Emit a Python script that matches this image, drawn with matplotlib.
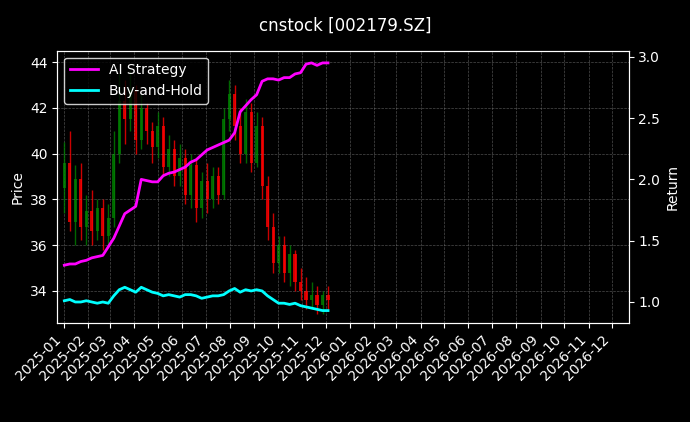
import matplotlib
matplotlib.use("Agg")
import matplotlib.pyplot as plt
import matplotlib.dates as mdates
from matplotlib.ticker import MultipleLocator
import pandas as pd

weeks = pd.date_range("2025-01-02", periods=49, freq="7D")
opens  = [38.5,39.6,37.0,38.9,36.8,37.5,36.6,37.6,36.4,37.2,40.0,42.3,41.5,42.8,40.6,42.0,41.0,40.3,41.2,39.4,40.2,39.0,39.8,38.2,39.5,37.6,38.8,38.0,39.0,38.2,41.5,42.6,41.2,40.0,41.8,39.6,41.2,38.6,36.8,35.2,36.0,34.8,35.6,34.4,34.0,33.6,33.8,33.4,33.8]
closes = [39.6,37.0,38.9,36.8,37.5,36.6,37.6,36.4,37.2,40.0,42.3,41.5,42.8,40.6,42.0,41.0,40.3,41.2,39.4,40.2,39.0,39.8,38.2,39.5,37.6,38.8,38.0,39.0,38.2,41.5,42.6,41.2,40.0,41.8,39.6,41.2,38.6,36.8,35.2,36.0,34.8,35.6,34.4,34.0,33.6,33.8,33.4,33.8,33.6]
highs  = [40.5,41.0,39.5,39.6,38.2,38.4,38.0,38.0,37.8,41.0,43.5,43.2,43.6,43.0,42.6,42.2,41.4,41.8,41.6,40.8,40.6,40.4,40.2,40.0,39.8,39.2,39.6,39.4,39.4,42.0,43.2,43.0,42.0,42.4,42.2,41.8,41.6,39.0,37.4,36.4,36.4,36.0,35.8,35.0,34.6,34.4,34.2,34.0,34.2]
lows   = [37.4,36.6,36.0,36.2,36.0,36.0,36.2,35.8,36.0,36.8,39.6,40.4,41.0,40.0,40.2,40.4,39.6,39.8,39.0,39.0,38.6,38.6,37.8,37.6,37.0,37.2,37.4,37.6,37.8,38.0,41.0,40.6,39.6,39.6,39.2,39.4,38.0,36.2,34.8,34.8,34.4,34.2,34.0,33.6,33.2,33.2,33.0,33.0,33.2]

ret_dates = pd.date_range("2025-01-02", periods=49, freq="7D")
ai_ret = [1.30,1.31,1.31,1.33,1.34,1.36,1.37,1.38,1.45,1.52,1.62,1.72,1.75,1.78,2.00,1.99,1.98,1.98,2.03,2.05,2.06,2.08,2.10,2.14,2.16,2.20,2.24,2.26,2.28,2.30,2.32,2.38,2.55,2.60,2.65,2.69,2.80,2.82,2.82,2.81,2.83,2.83,2.86,2.87,2.94,2.95,2.93,2.95,2.95]
bh_ret = [1.01,1.02,1.00,1.00,1.01,1.00,0.99,1.00,0.99,1.05,1.10,1.12,1.10,1.08,1.12,1.10,1.08,1.07,1.05,1.06,1.05,1.04,1.06,1.06,1.05,1.03,1.04,1.05,1.05,1.06,1.09,1.11,1.08,1.10,1.09,1.10,1.09,1.05,1.02,0.99,0.99,0.98,0.99,0.97,0.96,0.95,0.94,0.93,0.93]

plt.rcParams['font.family'] = ['DejaVu Sans']
fig = plt.figure(figsize=(6.9, 4.22), dpi=100, facecolor="black")
ax = fig.add_axes([0.083, 0.235, 0.828, 0.645])
ax.set_facecolor("black")
for d, o, c, h, l in zip(weeks, opens, closes, highs, lows):
    col = "green" if c >= o else "red"
    ax.vlines(d, l, h, color=col, linewidth=1.0, alpha=0.8)
    ax.bar(d, abs(c - o), bottom=min(o, c), width=4, color=col, alpha=0.8)
ax.set_ylim(32.6, 44.5)
ax.set_xlim(pd.Timestamp("2024-12-24"), pd.Timestamp("2026-12-22"))
ax.xaxis.set_major_locator(mdates.MonthLocator())
ax.xaxis.set_major_formatter(mdates.DateFormatter("%Y-%m"))
plt.setp(ax.get_xticklabels(), rotation=45, ha="right")
ax.set_ylabel("Price", color="white")
ax.grid(True, color="gray", linestyle="--", linewidth=0.5, alpha=0.6)
ax2 = ax.twinx()
ax2.plot(ret_dates, ai_ret, color="magenta", linewidth=2, label="AI Strategy")
ax2.plot(ret_dates, bh_ret, color="cyan", linewidth=2, label="Buy-and-Hold")
ax2.set_ylim(0.83, 3.05)
ax2.yaxis.set_major_locator(MultipleLocator(0.5))
ax2.set_ylabel("Return", color="white")
for a in (ax, ax2):
    a.tick_params(colors="white")
    for s in a.spines.values():
        s.set_color("white")
leg = ax2.legend(loc="upper left", facecolor="black", edgecolor="white")
for t in leg.get_texts():
    t.set_color("white")
fig.suptitle("cnstock [002179.SZ]", color="white", y=0.96)
fig.savefig("out.png", facecolor="black")
